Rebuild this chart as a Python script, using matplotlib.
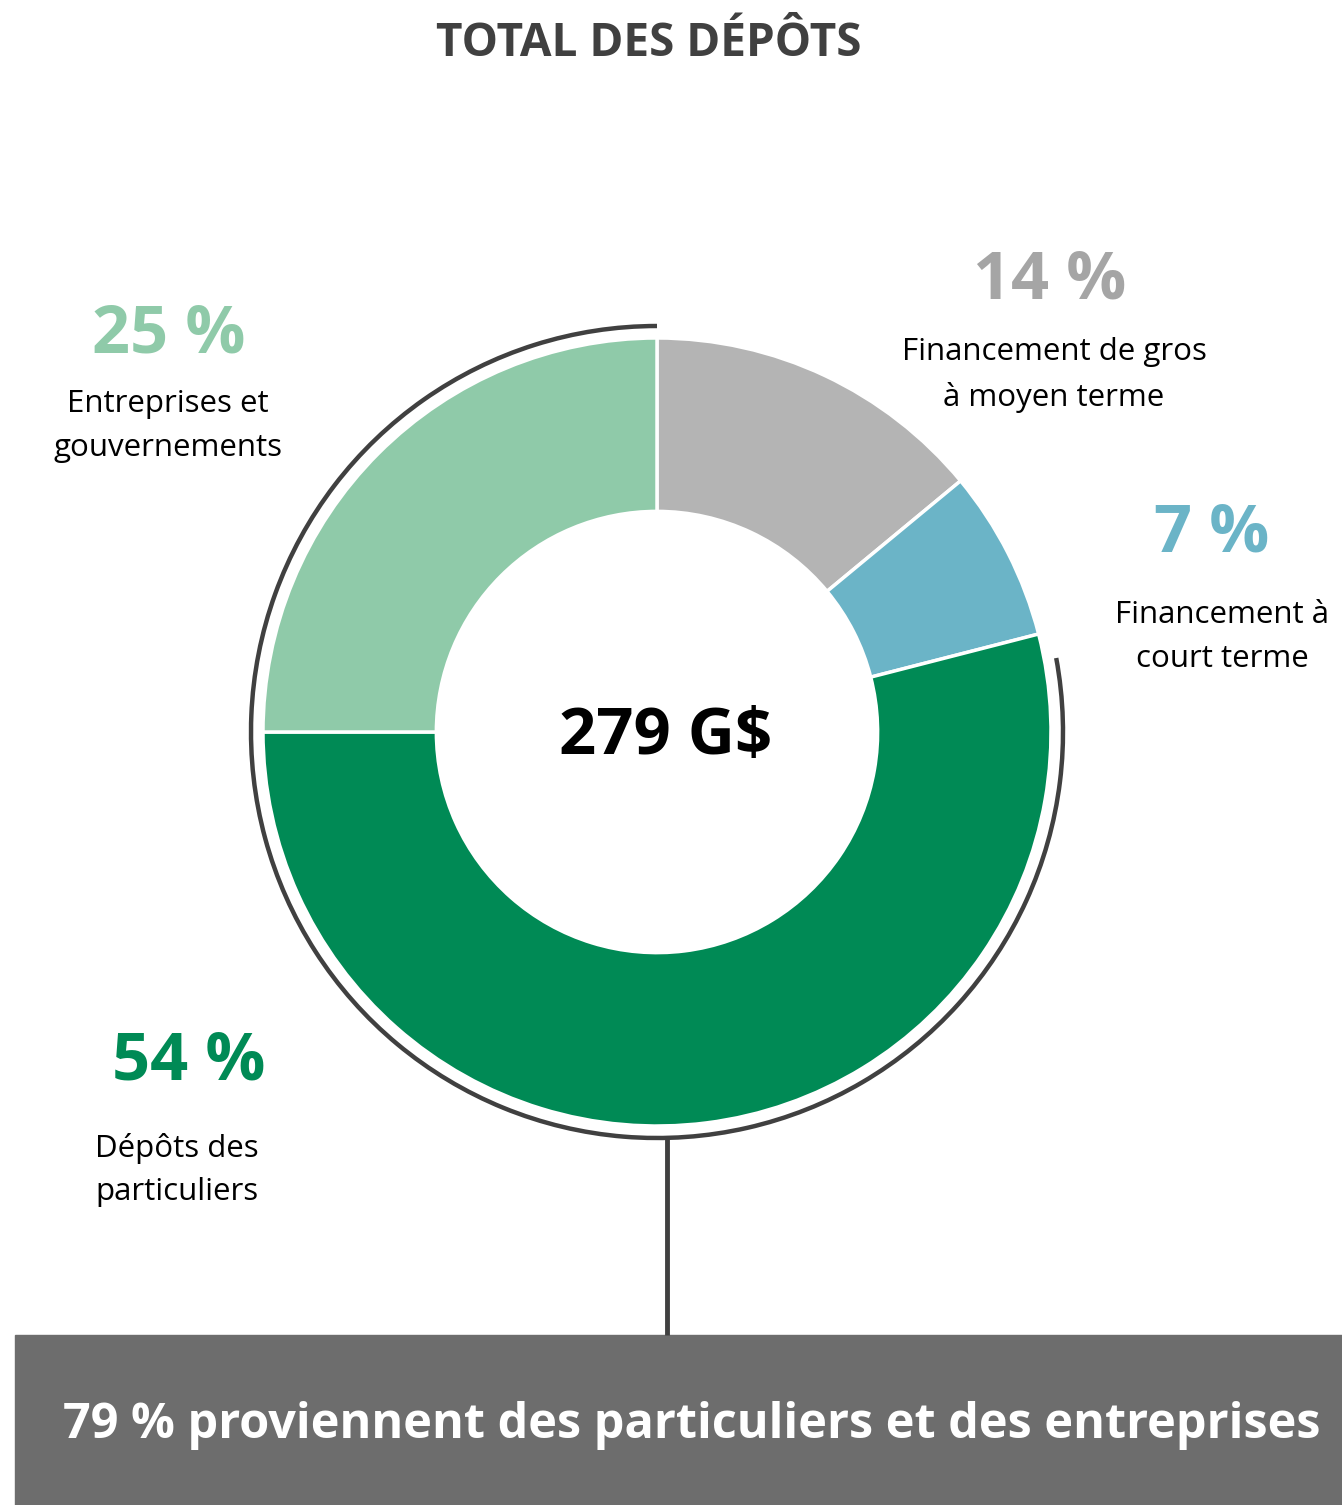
import matplotlib.pyplot as plt
from matplotlib.patches import Arc, Rectangle

plt.rcParams['font.family'] = ['Open Sans', 'DejaVu Sans']

# Données
categories = ["Financement de gros\nà moyen terme", "Financement à\ncourt terme",
              "Dépôts des\nparticuliers", "Entreprises et\ngouvernements"]
parts = [14, 7, 54, 25]
couleurs = ["#b4b4b4", "#6bb4c7", "#008a55", "#8fcaa9"]
couleurs_pct = ["#a5a5a5", "#6bb4c7", "#008a55", "#8fcaa9"]
total = "279 G$"
titre = "TOTAL DES DÉPÔTS"
message = "79 % proviennent des particuliers et des entreprises"

W, H = 1342, 1505
fig = plt.figure(figsize=(W / 100, H / 100), dpi=100)
ax = fig.add_axes([0, 0, 1, 1])

cx, cy, r = 657, H - 732, 394

ax.pie(parts, colors=couleurs, startangle=90, counterclock=False,
       center=(cx, cy), radius=r, frame=True,
       wedgeprops=dict(width=r * 0.44, edgecolor="white", linewidth=2.5))
ax.set_xlim(0, W)
ax.set_ylim(0, H)
ax.set_aspect("equal")
ax.axis("off")

# Accolade autour de 79 %
ax.add_patch(Arc((cx, cy), 2 * 406, 2 * 406, theta1=90, theta2=370.5,
                 color="#404040", linewidth=3.2))
ax.plot([667, 667], [H - 1139, H - 1335], color="#404040", linewidth=3.5,
        solid_capstyle="butt")

# Bandeau du bas
ax.add_patch(Rectangle((15, 0), W - 15, H - 1335, color="#6d6d6d"))
ax.text(692, H - 1425, message, color="white", fontsize=35, fontweight="bold",
        ha="center", va="center")

ax.text(649, H - 43, titre, color="#404040", fontsize=33, fontweight="bold",
        ha="center", va="center")
ax.text(666, H - 737, total, color="black", fontsize=47, fontweight="bold",
        ha="center", va="center")

# Étiquettes
pos_pct = [(1050, 281), (1212, 534), (189, 1062), (169, 335)]
pos_lab = [(1054, 375), (1222, 637), (177, 1170), (168, 426)]
for p, c, cat, (px, py), (lx, ly) in zip(parts, couleurs_pct, categories, pos_pct, pos_lab):
    ax.text(px, H - py, f"{p} %", color=c, fontsize=48, fontweight="bold",
            ha="center", va="center")
    ax.text(lx, H - ly, cat, color="black", fontsize=22.5, ha="center",
            va="center", linespacing=1.6)

plt.savefig("out.png", dpi=100)
